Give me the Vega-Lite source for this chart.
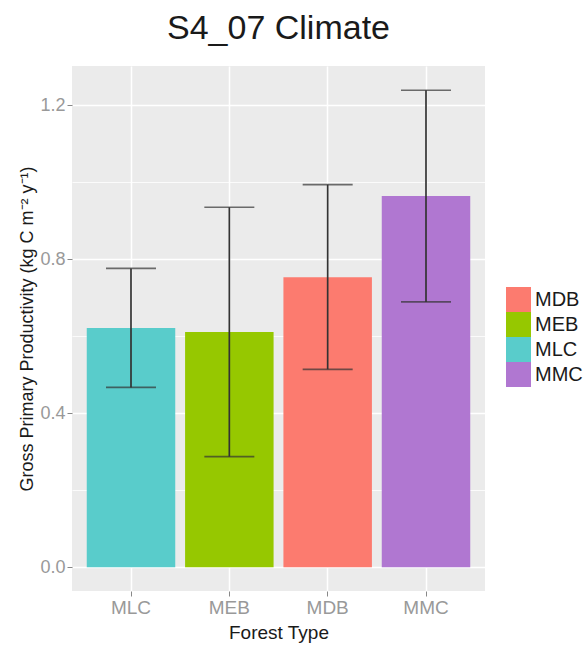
{
  "$schema": "https://vega.github.io/schema/vega-lite/v6.json",
  "width": 413,
  "height": 525,
  "autosize": {"type": "none"},
  "padding": {"left": 72, "top": 66, "right": 99, "bottom": 55},
  "background": "white",
  "config": {
    "font": "Liberation Sans",
    "view": {"fill": "#EBEBEB", "stroke": null},
    "title": {"fontSize": 34, "fontWeight": "normal", "color": "#1a1a1a", "anchor": "middle", "frame": "group", "offset": 20}
  },
  "title": "S4_07 Climate",
  "data": {
    "values": [
      {"type": "MLC", "gpp": 0.621, "lower": 0.467, "upper": 0.776},
      {"type": "MEB", "gpp": 0.611, "lower": 0.287, "upper": 0.935},
      {"type": "MDB", "gpp": 0.753, "lower": 0.514, "upper": 0.994},
      {"type": "MMC", "gpp": 0.964, "lower": 0.689, "upper": 1.239}
    ]
  },
  "resolve": {"axis": {"y": "independent"}},
  "layer": [
    {
      "mark": {"type": "bar"},
      "encoding": {
        "x": {
          "field": "type", "type": "nominal", "sort": ["MLC", "MEB", "MDB", "MMC"],
          "scale": {"paddingInner": 0.1, "paddingOuter": 0.15},
          "title": "Forest Type",
          "axis": {
            "grid": true, "gridColor": "white", "gridWidth": 1.5, "bandPosition": 0.5,
            "domain": false, "tickSize": 5, "tickColor": "#888", "tickWidth": 1,
            "labelFontSize": 19, "labelColor": "#999", "labelPadding": 2, "labelAngle": 0,
            "titleFontSize": 19, "titleFontWeight": "normal", "titleColor": "#1a1a1a", "titlePadding": 6
          }
        },
        "y": {
          "field": "gpp", "type": "quantitative",
          "scale": {"domain": [-0.062, 1.302], "nice": false, "zero": false},
          "title": "Gross Primary Productivity (kg C m⁻² y⁻¹)",
          "axis": {
            "orient": "left", "values": [0, 0.4, 0.8, 1.2], "format": ".1f",
            "grid": true, "gridColor": "white", "gridWidth": 1.5,
            "domain": false, "tickSize": 5, "tickColor": "#888", "tickWidth": 1,
            "labelFontSize": 18, "labelColor": "#999", "labelPadding": 2,
            "titleFontSize": 18, "titleFontWeight": "normal", "titleColor": "#1a1a1a", "titlePadding": 3
          }
        },
        "color": {
          "field": "type", "type": "nominal",
          "scale": {"domain": ["MDB", "MEB", "MLC", "MMC"], "range": ["#FC7B6F", "#96C800", "#59CCCB", "#B077D1"]},
          "legend": {
            "title": null, "orient": "none", "legendX": 434, "legendY": 221, "padding": 0,
            "symbolType": "square", "symbolSize": 625, "symbolStrokeWidth": 0, "symbolOpacity": 1,
            "labelFontSize": 20, "labelColor": "#1a1a1a", "labelOffset": 4, "rowPadding": 0
          }
        }
      }
    },
    {
      "mark": {"type": "rule", "color": "#333", "strokeWidth": 1.7},
      "encoding": {
        "x": {"field": "type", "type": "nominal", "sort": ["MLC", "MEB", "MDB", "MMC"]},
        "y": {
          "field": "lower", "type": "quantitative",
          "axis": {
            "orient": "right", "values": [0.2, 0.6, 1.0], "grid": true, "gridColor": "white", "gridWidth": 0.8,
            "domain": false, "ticks": false, "labels": false, "title": null
          }
        },
        "y2": {"field": "upper"}
      }
    },
    {
      "mark": {"type": "tick", "color": "#333", "size": 50, "thickness": 1.7, "orient": "horizontal"},
      "encoding": {
        "x": {"field": "type", "type": "nominal", "sort": ["MLC", "MEB", "MDB", "MMC"]},
        "y": {"field": "lower", "type": "quantitative", "axis": null}
      }
    },
    {
      "mark": {"type": "tick", "color": "#333", "size": 50, "thickness": 1.7, "orient": "horizontal"},
      "encoding": {
        "x": {"field": "type", "type": "nominal", "sort": ["MLC", "MEB", "MDB", "MMC"]},
        "y": {"field": "upper", "type": "quantitative", "axis": null}
      }
    }
  ]
}
